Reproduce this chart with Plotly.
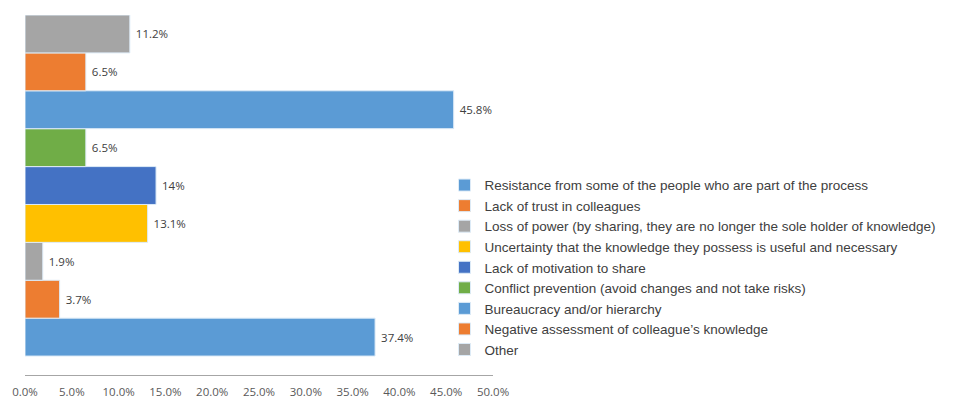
import plotly.graph_objects as go

categories = [
    "Resistance from some of the people who are part of the process",
    "Lack of trust in colleagues",
    "Loss of power (by sharing, they are no longer the sole holder of knowledge)",
    "Uncertainty that the knowledge they possess is useful and necessary",
    "Lack of motivation to share",
    "Conflict prevention (avoid changes and not take risks)",
    "Bureaucracy and/or hierarchy",
    "Negative assessment of colleague\u2019s knowledge",
    "Other",
]
values = [37.4, 3.7, 1.9, 13.1, 14.0, 6.5, 45.8, 6.5, 11.2]
value_labels = ["37.4%", "3.7%", "1.9%", "13.1%", "14%", "6.5%", "45.8%", "6.5%", "11.2%"]
colors = ["#5B9BD5", "#ED7D31", "#A5A5A5", "#FFC000", "#4472C4",
          "#70AD47", "#5B9BD5", "#ED7D31", "#A5A5A5"]
tick_vals = [0, 5, 10, 15, 20, 25, 30, 35, 40, 45, 50]
tick_text = ["0.0%", "5.0%", "10.0%", "15.0%", "20.0%", "25.0%", "30.0%",
             "35.0%", "40.0%", "45.0%", "50.0%"]

fig = go.Figure()
for cat, v, lab, c in zip(categories, values, value_labels, colors):
    fig.add_trace(go.Bar(
        x=[v], y=[cat], orientation="h", name=cat,
        marker=dict(color=c, line=dict(color="#DDEBF7", width=1)),
        width=1.0,
        text=[" " + lab], textposition="outside", cliponaxis=False,
        textfont=dict(family="Open Sans, Arial", size=11.5, color="#404040"),
    ))

fig.update_layout(
    width=972, height=398,
    margin=dict(l=25, r=0, t=15, b=23, autoexpand=False),
    paper_bgcolor="white", plot_bgcolor="white",
    barmode="overlay",
    showlegend=True,
    legend=dict(
        x=0.443, xanchor="left",
        y=0.57, yanchor="top",
        font=dict(family="Liberation Sans, Arial", size=13.5, color="#404040"),
        traceorder="normal", itemwidth=30,
        bgcolor="rgba(0,0,0,0)",
    ),
    xaxis=dict(
        domain=[0, 0.4942],
        range=[0, 50], tickvals=tick_vals, ticktext=tick_text,
        showgrid=False, zeroline=False, automargin=False,
        showline=True, linecolor="#A6A6A6", linewidth=1,
        ticks="", ticklabelstandoff=6,
        tickfont=dict(family="Open Sans, Arial", size=11.5, color="#595959"),
    ),
    yaxis=dict(
        categoryorder="array", categoryarray=categories,
        range=[-1.0, 8.5], showticklabels=False, showgrid=False,
        zeroline=False, showline=False, ticks="", automargin=False,
    ),
)

fig.write_html("out.html")
